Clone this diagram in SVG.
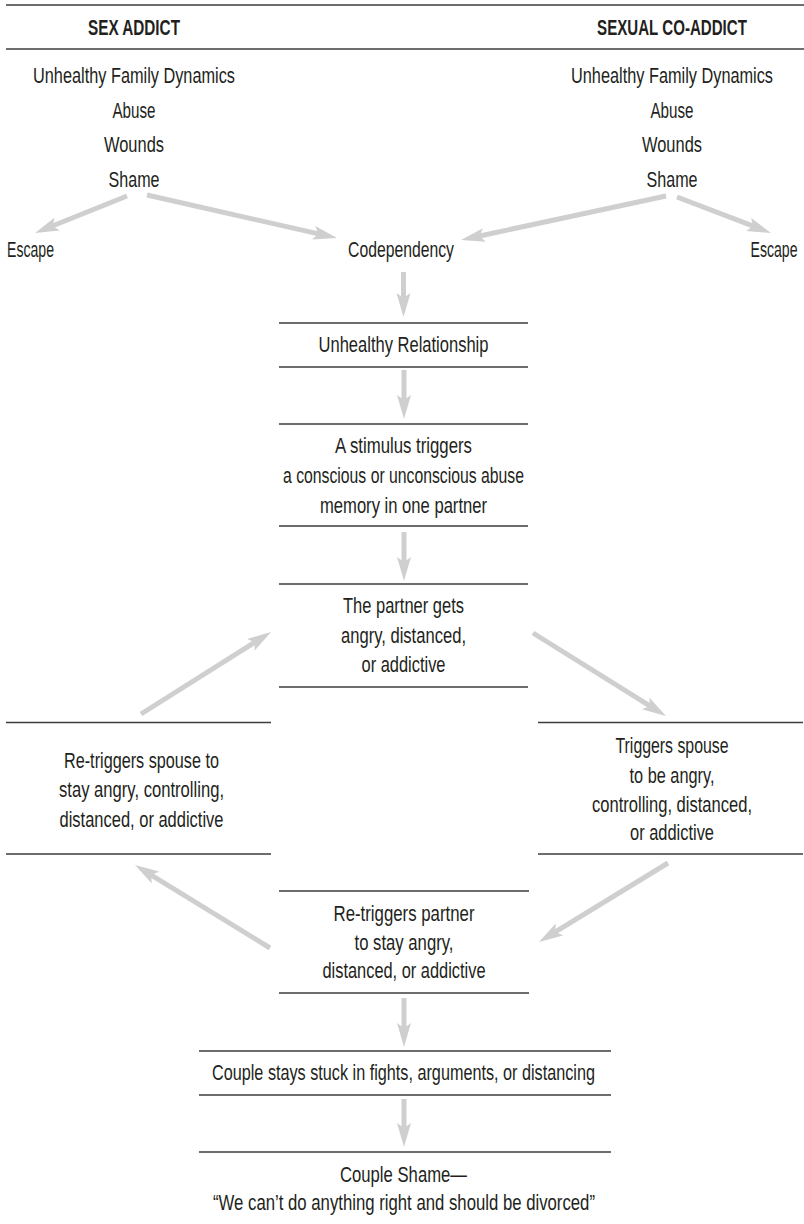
<svg xmlns="http://www.w3.org/2000/svg" width="804" height="1224" viewBox="0 0 804 1224">
  <style>
    text { font-family: "Liberation Sans", Arial, sans-serif; font-size: 21.5px; fill: #231f20; text-anchor: middle; }
    text.head { font-weight: bold; }
    .rule { stroke: #3c3c3c; stroke-width: 1.6; fill: none; }
    .arrow { stroke: #cfcfcf; stroke-width: 5; fill: none; marker-end: url(#head); }
  </style>
  <defs>
    <marker id="head" markerUnits="userSpaceOnUse" markerWidth="24" markerHeight="14" refX="12" refY="7" orient="auto" viewBox="0 0 24 14">
      <path d="M0,0 L24,7 L0,14 L5,7 Z" fill="#cfcfcf"/>
    </marker>
  </defs>
  <rect width="804" height="1224" fill="#ffffff"/>

  <!-- column headings -->
  <g id="headings">
    <line class="rule" x1="6" y1="5" x2="804" y2="5"/>
    <line class="rule" x1="6" y1="49" x2="804" y2="49"/>
    <text class="head" x="134" y="35" textLength="92" lengthAdjust="spacingAndGlyphs">SEX ADDICT</text>
    <text class="head" transform="translate(672,35) scale(0.7,1)" x="0" y="0" textLength="214" lengthAdjust="spacingAndGlyphs">SEXUAL CO-ADDICT</text>
  </g>

  <g id="addict-origins">
    <text x="134" y="83" textLength="202" lengthAdjust="spacingAndGlyphs">Unhealthy Family Dynamics</text>
    <text x="134" y="118" textLength="43" lengthAdjust="spacingAndGlyphs">Abuse</text>
    <text x="134" y="152" textLength="60" lengthAdjust="spacingAndGlyphs">Wounds</text>
    <text x="134" y="187" textLength="51" lengthAdjust="spacingAndGlyphs">Shame</text>
  </g>

  <g id="coaddict-origins">
    <text transform="translate(672,83) scale(0.758,1)" x="0" y="0" textLength="266.5" lengthAdjust="spacingAndGlyphs">Unhealthy Family Dynamics</text>
    <text x="672" y="118" textLength="43" lengthAdjust="spacingAndGlyphs">Abuse</text>
    <text x="672" y="152" textLength="60" lengthAdjust="spacingAndGlyphs">Wounds</text>
    <text x="672" y="187" textLength="51" lengthAdjust="spacingAndGlyphs">Shame</text>
  </g>

  <g id="escape-left">
    <text x="30.5" y="257" textLength="47" lengthAdjust="spacingAndGlyphs">Escape</text>
  </g>
  <g id="escape-right">
    <text transform="translate(774,257) scale(0.655,1)" x="0" y="0" textLength="71.8" lengthAdjust="spacingAndGlyphs">Escape</text>
  </g>
  <g id="codependency">
    <text x="401" y="257" textLength="106" lengthAdjust="spacingAndGlyphs">Codependency</text>
  </g>

  <g id="unhealthy-relationship">
    <line class="rule" x1="279" y1="323" x2="528" y2="323"/>
    <line class="rule" x1="279" y1="367" x2="528" y2="367"/>
    <text x="403.5" y="352" textLength="170" lengthAdjust="spacingAndGlyphs">Unhealthy Relationship</text>
  </g>

  <g id="stimulus">
    <line class="rule" x1="279" y1="424" x2="528" y2="424"/>
    <line class="rule" x1="279" y1="526" x2="528" y2="526"/>
    <text x="403.5" y="453" textLength="137" lengthAdjust="spacingAndGlyphs">A stimulus triggers</text>
    <text x="403.5" y="483" textLength="241" lengthAdjust="spacingAndGlyphs">a conscious or unconscious abuse</text>
    <text x="403.5" y="513" textLength="167" lengthAdjust="spacingAndGlyphs">memory in one partner</text>
  </g>

  <g id="partner-reacts">
    <line class="rule" x1="279" y1="584" x2="528" y2="584"/>
    <line class="rule" x1="279" y1="687" x2="528" y2="687"/>
    <text x="403.5" y="613" textLength="121" lengthAdjust="spacingAndGlyphs">The partner gets</text>
    <text x="403.5" y="643" textLength="125" lengthAdjust="spacingAndGlyphs">angry, distanced,</text>
    <text x="403.5" y="672" textLength="84" lengthAdjust="spacingAndGlyphs">or addictive</text>
  </g>

  <g id="retriggers-spouse">
    <line class="rule" x1="6" y1="722.5" x2="271" y2="722.5"/>
    <line class="rule" x1="6" y1="854" x2="271" y2="854"/>
    <text x="141.5" y="768" textLength="155" lengthAdjust="spacingAndGlyphs">Re-triggers spouse to</text>
    <text x="141.5" y="797" textLength="165" lengthAdjust="spacingAndGlyphs">stay angry, controlling,</text>
    <text x="141.5" y="827" textLength="164" lengthAdjust="spacingAndGlyphs">distanced, or addictive</text>
  </g>

  <g id="triggers-spouse">
    <line class="rule" x1="538" y1="722.5" x2="803" y2="722.5"/>
    <line class="rule" x1="538" y1="854" x2="803" y2="854"/>
    <text x="672" y="753" textLength="113" lengthAdjust="spacingAndGlyphs">Triggers spouse</text>
    <text x="672" y="783" textLength="85" lengthAdjust="spacingAndGlyphs">to be angry,</text>
    <text x="672" y="812" textLength="160" lengthAdjust="spacingAndGlyphs">controlling, distanced,</text>
    <text x="672" y="840" textLength="84" lengthAdjust="spacingAndGlyphs">or addictive</text>
  </g>

  <g id="retriggers-partner">
    <line class="rule" x1="279" y1="891" x2="529" y2="891"/>
    <line class="rule" x1="279" y1="993" x2="529" y2="993"/>
    <text x="404" y="921" textLength="141" lengthAdjust="spacingAndGlyphs">Re-triggers partner</text>
    <text x="404" y="950" textLength="99" lengthAdjust="spacingAndGlyphs">to stay angry,</text>
    <text x="404" y="978" textLength="163" lengthAdjust="spacingAndGlyphs">distanced, or addictive</text>
  </g>

  <g id="couple-stuck">
    <line class="rule" x1="199" y1="1051" x2="611" y2="1051"/>
    <line class="rule" x1="199" y1="1095" x2="611" y2="1095"/>
    <text x="403.5" y="1080" textLength="383" lengthAdjust="spacingAndGlyphs">Couple stays stuck in fights, arguments, or distancing</text>
  </g>

  <g id="couple-shame">
    <line class="rule" x1="199" y1="1152" x2="611" y2="1152"/>
    <text x="403.5" y="1182" textLength="127" lengthAdjust="spacingAndGlyphs">Couple Shame—</text>
    <text x="404" y="1210" textLength="382" lengthAdjust="spacingAndGlyphs">“We can’t do anything right and should be divorced”</text>
  </g>

  <!-- connectors: each line stops 12px short of its tip; the marker supplies the point -->
  <g id="connectors">
    <line class="arrow" x1="127" y1="196" x2="46.1" y2="228.5"/>
    <line class="arrow" x1="147" y1="195" x2="325.3" y2="235.4"/>
    <line class="arrow" x1="666" y1="196" x2="472.7" y2="237.5"/>
    <line class="arrow" x1="677" y1="197" x2="759.8" y2="228.7"/>
    <line class="arrow" x1="403.5" y1="272" x2="403.5" y2="305"/>
    <line class="arrow" x1="404" y1="370" x2="404" y2="407"/>
    <line class="arrow" x1="404" y1="532" x2="404" y2="569"/>
    <line class="arrow" x1="141" y1="714" x2="260.9" y2="638.4"/>
    <line class="arrow" x1="533" y1="633" x2="655.8" y2="709.7"/>
    <line class="arrow" x1="668" y1="863" x2="549.2" y2="935.7"/>
    <line class="arrow" x1="270" y1="948" x2="145.2" y2="871.3"/>
    <line class="arrow" x1="404" y1="998" x2="404" y2="1035"/>
    <line class="arrow" x1="404" y1="1099" x2="404" y2="1135"/>
  </g>
</svg>
